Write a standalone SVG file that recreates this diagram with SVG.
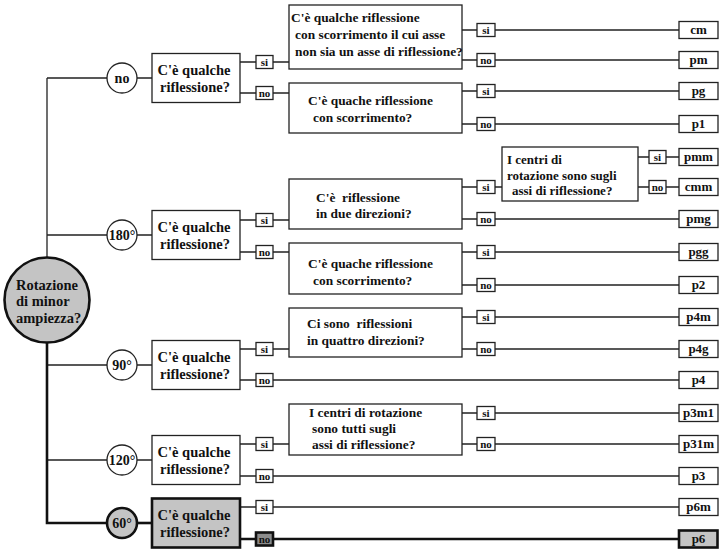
<svg xmlns="http://www.w3.org/2000/svg" width="719" height="549" viewBox="0 0 719 549" font-family="'Liberation Serif','Times New Roman',serif">
<style>
text{font-family:"Liberation Serif","Times New Roman",serif;font-weight:bold;fill:#111}
.box{fill:#fff;stroke:#222;stroke-width:1.3}
.hl{fill:#c4c4c4;stroke:#111;stroke-width:2.6}
.dk{fill:#8c8c8c;stroke:#111;stroke-width:2.6}
.t1{font-size:14.5px}
.t2{font-size:13.4px}
.t3{font-size:13px}
.tc{font-size:14px;text-anchor:middle}
.ts{font-size:11px;text-anchor:middle}
.tr{font-size:13px;text-anchor:middle}
.mid{text-anchor:middle}
#connectors path{fill:none;stroke:#222;stroke-width:1.3}
#connectors path.thick{stroke:#111;stroke-width:2.6}
</style>
<rect width="719" height="549" fill="#fff"/>
<g id="connectors">
<path d="M47 78V300M47 78H107M47 235H107M47 365H107M47 460H107"/>
<path class="thick" d="M47 300V523H107"/>
<path d="M137 78H152M137 235H152M137 365H152M137 460H152"/>
<path class="thick" d="M137 523H152"/>
<path d="M240 62H256M273 62H289M240 93H256M273 93H289"/>
<path d="M240 220H256M273 220H289M240 252H256M273 252H289"/>
<path d="M240 349H256M273 349H289M240 380H256M273 380H679"/>
<path d="M240 444H256M273 444H289M240 476H256M273 476H679"/>
<path d="M240 507H256M273 507H679"/>
<path class="thick" d="M240 539H256M273 539H679"/>
<path d="M462 30H477M495 30H679M462 60H477M495 60H679M462 91H477M495 91H679M462 124H477M495 124H679"/>
<path d="M462 187H477M495 187H502M462 219H477M495 219H679M462 252H477M495 252H679M462 285H477M495 285H679"/>
<path d="M462 317H477M495 317H679M462 349H477M495 349H679M462 413H477M495 413H679M462 444H477M495 444H679"/>
<path d="M638 157H649M666 157H679M638 187H649M666 187H679"/>
</g>
<g id="root"><circle cx="47" cy="300" r="42.5" class="hl" stroke-width="2"/>
<text class="t1" x="16" y="290" font-size="15">Rotazione</text>
<text class="t1" x="16" y="306" font-size="15">di minor</text>
<text class="t1" x="16" y="323" font-size="15">ampiezza?</text></g>
<g id="c-no"><circle cx="122" cy="78" r="15" class="box"/><text class="tc" x="122" y="83">no</text></g>
<g id="c-180"><circle cx="122" cy="235" r="15" class="box"/><text class="tc" x="122" y="240">180°</text></g>
<g id="c-90"><circle cx="122" cy="365" r="15" class="box"/><text class="tc" x="122" y="370">90°</text></g>
<g id="c-120"><circle cx="122" cy="460" r="15" class="box"/><text class="tc" x="122" y="465">120°</text></g>
<g id="c-60"><circle cx="122" cy="523" r="15" class="hl"/><text class="tc" x="122" y="528">60°</text></g>
<g id="q-no"><rect x="152" y="53.5" width="88" height="49" class="box"/><text class="t1 mid" x="194" y="75">C'è qualche</text><text class="t1 mid" x="195" y="92">riflessione?</text></g>
<g id="q-180"><rect x="152" y="210.5" width="88" height="49" class="box"/><text class="t1 mid" x="194" y="232">C'è qualche</text><text class="t1 mid" x="195" y="249">riflessione?</text></g>
<g id="q-90"><rect x="152" y="340.5" width="88" height="49" class="box"/><text class="t1 mid" x="194" y="362">C'è qualche</text><text class="t1 mid" x="195" y="379">riflessione?</text></g>
<g id="q-120"><rect x="152" y="435.5" width="88" height="49" class="box"/><text class="t1 mid" x="194" y="457">C'è qualche</text><text class="t1 mid" x="195" y="474">riflessione?</text></g>
<g id="q-60"><rect x="152" y="498.5" width="88" height="49" class="hl"/><text class="t1 mid" x="194" y="520">C'è qualche</text><text class="t1 mid" x="195" y="537">riflessione?</text></g>
<g id="l1-labels">
<rect x="256" y="55.5" width="17" height="13" class="box"/><text class="ts" x="264.5" y="66">si</text>
<rect x="256" y="86.5" width="17" height="13" class="box"/><text class="ts" x="264.5" y="97">no</text>
<rect x="256" y="213.5" width="17" height="13" class="box"/><text class="ts" x="264.5" y="224">si</text>
<rect x="256" y="245.5" width="17" height="13" class="box"/><text class="ts" x="264.5" y="256">no</text>
<rect x="256" y="342.5" width="17" height="13" class="box"/><text class="ts" x="264.5" y="353">si</text>
<rect x="256" y="373.5" width="17" height="13" class="box"/><text class="ts" x="264.5" y="384">no</text>
<rect x="256" y="437.5" width="17" height="13" class="box"/><text class="ts" x="264.5" y="448">si</text>
<rect x="256" y="469.5" width="17" height="13" class="box"/><text class="ts" x="264.5" y="480">no</text>
<rect x="256" y="500.5" width="17" height="13" class="box"/><text class="ts" x="264.5" y="511">si</text>
<rect x="256" y="532.5" width="17" height="13" class="dk"/><text class="ts" x="264.5" y="543">no</text>
</g>
<g id="q-A1"><rect x="289" y="5" width="173" height="64" class="box"/>
<text class="t2" x="291" y="22">C'è qualche riflessione</text>
<text class="t2" x="295" y="39">con scorrimento il cui asse</text>
<text class="t2" x="295" y="56">non sia un asse di riflessione?</text></g>
<g id="q-A2"><rect x="289" y="83" width="173" height="50" class="box"/>
<text class="t2" x="308" y="105">C'è quache riflessione</text>
<text class="t2" x="313" y="122">con scorrimento?</text></g>
<g id="q-B1"><rect x="289" y="179" width="173" height="50" class="box"/>
<text class="t2" x="316" y="202">C'è&#160; riflessione</text>
<text class="t2" x="316" y="218">in due direzioni?</text></g>
<g id="q-B2"><rect x="289" y="243" width="173" height="51" class="box"/>
<text class="t2" x="308" y="268">C'è quache riflessione</text>
<text class="t2" x="313" y="285">con scorrimento?</text></g>
<g id="q-C1"><rect x="289" y="308" width="173" height="49" class="box"/>
<text class="t2" x="307" y="328" font-size="13.8">Ci sono&#160; riflessioni</text>
<text class="t2" x="307" y="345" font-size="13.8">in quattro direzioni?</text></g>
<g id="q-D1"><rect x="289" y="404" width="173" height="51" class="box"/>
<text class="t2" x="309" y="417" font-size="14">I centri di rotazione</text>
<text class="t2" x="312" y="433" font-size="14">sono tutti sugli</text>
<text class="t2" x="312" y="449" font-size="14">assi di riflessione?</text></g>
<g id="q-B3"><rect x="502" y="147" width="136" height="54" class="box"/>
<text class="t3" x="507" y="164">I centri di</text>
<text class="t3" x="507" y="180">rotazione sono sugli</text>
<text class="t3" x="512" y="195">assi di riflessione?</text></g>
<g id="l2-labels">
<rect x="477" y="23.5" width="18" height="13" class="box"/><text class="ts" x="486" y="34">si</text>
<rect x="477" y="53.5" width="18" height="13" class="box"/><text class="ts" x="486" y="64">no</text>
<rect x="477" y="84.5" width="18" height="13" class="box"/><text class="ts" x="486" y="95">si</text>
<rect x="477" y="117.5" width="18" height="13" class="box"/><text class="ts" x="486" y="128">no</text>
<rect x="477" y="180.5" width="18" height="13" class="box"/><text class="ts" x="486" y="191">si</text>
<rect x="477" y="212.5" width="18" height="13" class="box"/><text class="ts" x="486" y="223">no</text>
<rect x="477" y="245.5" width="18" height="13" class="box"/><text class="ts" x="486" y="256">si</text>
<rect x="477" y="278.5" width="18" height="13" class="box"/><text class="ts" x="486" y="289">no</text>
<rect x="477" y="310.5" width="18" height="13" class="box"/><text class="ts" x="486" y="321">si</text>
<rect x="477" y="342.5" width="18" height="13" class="box"/><text class="ts" x="486" y="353">no</text>
<rect x="477" y="406.5" width="18" height="13" class="box"/><text class="ts" x="486" y="417">si</text>
<rect x="477" y="437.5" width="18" height="13" class="box"/><text class="ts" x="486" y="448">no</text>
<rect x="649" y="150.5" width="17" height="13" class="box"/><text class="ts" x="657.5" y="161">si</text>
<rect x="649" y="180.5" width="17" height="13" class="box"/><text class="ts" x="657.5" y="191">no</text>
</g>
<g id="results">
<g id="r-cm"><rect x="679" y="21.5" width="39" height="17" class="box"/><text class="tr" x="698.5" y="34">cm</text></g>
<g id="r-pm"><rect x="679" y="51.5" width="39" height="17" class="box"/><text class="tr" x="698.5" y="64">pm</text></g>
<g id="r-pg"><rect x="679" y="82.5" width="39" height="17" class="box"/><text class="tr" x="698.5" y="95">pg</text></g>
<g id="r-p1"><rect x="679" y="115.5" width="39" height="17" class="box"/><text class="tr" x="698.5" y="128">p1</text></g>
<g id="r-pmm"><rect x="679" y="148.5" width="39" height="17" class="box"/><text class="tr" x="698.5" y="161">pmm</text></g>
<g id="r-cmm"><rect x="679" y="178.5" width="39" height="17" class="box"/><text class="tr" x="698.5" y="191">cmm</text></g>
<g id="r-pmg"><rect x="679" y="210.5" width="39" height="17" class="box"/><text class="tr" x="698.5" y="223">pmg</text></g>
<g id="r-pgg"><rect x="679" y="243.5" width="39" height="17" class="box"/><text class="tr" x="698.5" y="256">pgg</text></g>
<g id="r-p2"><rect x="679" y="276.5" width="39" height="17" class="box"/><text class="tr" x="698.5" y="289">p2</text></g>
<g id="r-p4m"><rect x="679" y="308.5" width="39" height="17" class="box"/><text class="tr" x="698.5" y="321">p4m</text></g>
<g id="r-p4g"><rect x="679" y="340.5" width="39" height="17" class="box"/><text class="tr" x="698.5" y="353">p4g</text></g>
<g id="r-p4"><rect x="679" y="371.5" width="39" height="17" class="box"/><text class="tr" x="698.5" y="384">p4</text></g>
<g id="r-p3m1"><rect x="679" y="404.5" width="39" height="17" class="box"/><text class="tr" x="698.5" y="417">p3m1</text></g>
<g id="r-p31m"><rect x="679" y="435.5" width="39" height="17" class="box"/><text class="tr" x="698.5" y="448">p31m</text></g>
<g id="r-p3"><rect x="679" y="467.5" width="39" height="17" class="box"/><text class="tr" x="698.5" y="480">p3</text></g>
<g id="r-p6m"><rect x="679" y="498.5" width="39" height="17" class="box"/><text class="tr" x="698.5" y="511">p6m</text></g>
<g id="r-p6"><rect x="679" y="530.5" width="38.5" height="17" class="hl"/><text class="tr" x="698.5" y="543">p6</text></g>
</g>
</svg>
